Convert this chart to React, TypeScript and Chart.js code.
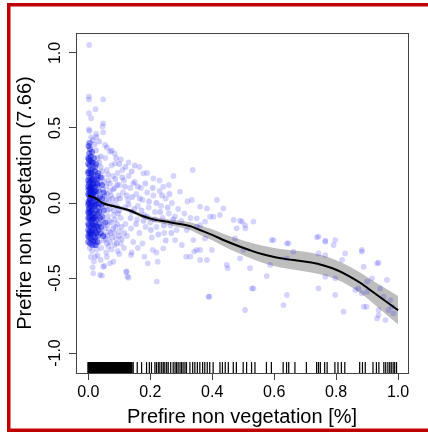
import React, { useEffect, useRef } from "react";
import { Chart, registerables } from "chart.js";

Chart.register(...registerables);

const X_TICKS = [0, 0.2, 0.4, 0.6, 0.8, 1.0];
const Y_TICKS = [-1.0, -0.5, 0.0, 0.5, 1.0];
const X_MIN = -0.0397;
const X_MAX = 1.032;
const Y_MIN = -1.133;
const Y_MAX = 1.133;
const X_TITLE = "Prefire non vegetation [%]";
const Y_TITLE = "Prefire non vegetation (7.66)";

// smooth partial-effect curve and its confidence half-width
const FIT_X = [0.0, 0.025, 0.046, 0.08, 0.11, 0.14, 0.175, 0.21, 0.25, 0.29, 0.33, 0.36, 0.4, 0.44, 0.48, 0.52, 0.56, 0.6, 0.64, 0.68, 0.72, 0.76, 0.8, 0.84, 0.88, 0.92, 0.96, 1.0];
const FIT_Y = [0.05, 0.03, 0.0, -0.02, -0.036, -0.055, -0.087, -0.109, -0.124, -0.138, -0.155, -0.18, -0.212, -0.25, -0.283, -0.313, -0.34, -0.36, -0.374, -0.385, -0.397, -0.417, -0.445, -0.485, -0.535, -0.595, -0.655, -0.715];
const FIT_HALF = [0.012, 0.01, 0.01, 0.01, 0.011, 0.012, 0.014, 0.016, 0.018, 0.022, 0.027, 0.032, 0.037, 0.042, 0.047, 0.052, 0.056, 0.06, 0.063, 0.065, 0.066, 0.065, 0.064, 0.065, 0.068, 0.075, 0.085, 0.095];

// partial residuals (scattered)
const SPARSE_PTS: [number, number][] = [
  [0.003, 1.053], [0.002, 0.709], [0.002, 0.69], [0.048, 0.69], [0.023, 0.625], [0.002, 0.598], [0.009, 0.565],
  [0.048, 0.531], [0.046, 0.51], [0.002, 0.49], [0.004, 0.48], [0.025, 0.46], [0.048, 0.471], [0.009, 0.438],
  [0.054, 0.387], [0.07, 0.342], [0.086, 0.264], [0.178, 0.198], [0.275, 0.18], [0.337, 0.22], [0.21, 0.164],
  [0.145, 0.131], [0.242, 0.109], [0.296, 0.076], [0.415, 0.02], [0.383, -0.036], [0.469, -0.113], [0.496, -0.124],
  [0.533, -0.124], [0.479, -0.169], [0.507, -0.169], [0.404, -0.091], [0.35, -0.102], [0.361, -0.147], [0.318, -0.18],
  [0.28, -0.247], [0.302, -0.28], [0.242, -0.302], [0.361, -0.313], [0.329, -0.358], [0.447, -0.413], [0.45, -0.435],
  [0.383, -0.38], [0.598, -0.247], [0.641, -0.269], [0.662, -0.324], [0.738, -0.229], [0.765, -0.251], [0.792, -0.28],
  [0.883, -0.313], [0.932, -0.402], [0.964, -0.513], [0.9, -0.524], [0.862, -0.58], [0.743, -0.569], [0.641, -0.613],
  [0.533, -0.569], [0.391, -0.624], [0.221, -0.524], [0.124, -0.458], [0.126, -0.49], [0.038, -0.48], [0.016, -0.469],
  [0.048, -0.425], [0.07, -0.402], [0.022, -0.358], [0.014, -0.429], [0.044, -0.484], [0.052, -0.42], [0.081, -0.391],
  [0.122, -0.458], [0.13, -0.498], [0.138, -0.347], [0.192, -0.402], [0.224, -0.391], [0.181, -0.358], [0.316, -0.358],
  [0.208, -0.313], [0.22, -0.33], [0.342, -0.324], [0.334, 0.02], [0.361, -0.024], [0.436, -0.036], [0.425, -0.08],
  [0.393, -0.091], [0.49, -0.118], [0.506, -0.147], [0.35, -0.158], [0.377, -0.124], [0.339, -0.247], [0.377, -0.236],
  [0.35, -0.313], [0.399, -0.313], [0.361, -0.38], [0.474, -0.236], [0.501, -0.313], [0.49, -0.369], [0.592, -0.247],
  [0.646, -0.269], [0.641, -0.369], [0.587, -0.413], [0.522, -0.435], [0.576, -0.487], [0.528, -0.569], [0.388, -0.624],
  [0.743, -0.224], [0.765, -0.258], [0.797, -0.247], [0.743, -0.336], [0.765, -0.347], [0.829, -0.336], [0.883, -0.324],
  [0.819, -0.38], [0.765, -0.491], [0.797, -0.502], [0.889, -0.425], [0.937, -0.398], [0.916, -0.502], [0.872, -0.569],
  [0.9, -0.591], [0.942, -0.569], [0.953, -0.624], [0.975, -0.647], [0.898, -0.691], [0.937, -0.713], [0.969, -0.713],
  [0.98, -0.69], [0.824, -0.724], [0.932, -0.769], [0.959, -0.78], [0.985, -0.735], [0.506, -0.713], [0.63, -0.68],
  [0.889, -0.691], [0.937, -0.747], [0.797, -0.613], [0.883, -0.602],
  [0.055, 0.3], [0.06, 0.22], [0.065, 0.15], [0.07, 0.08], [0.058, 0.02], [0.062, -0.05], [0.068, -0.12], [0.072, -0.2],
  [0.06, -0.27], [0.075, 0.25], [0.08, 0.18], [0.085, 0.1], [0.078, 0.03], [0.082, -0.08], [0.088, -0.16], [0.09, -0.24],
  [0.095, 0.2], [0.1, 0.12], [0.098, 0.05], [0.092, -0.02], [0.105, -0.1], [0.1, -0.19], [0.11, 0.22], [0.115, 0.15],
  [0.112, 0.07], [0.118, -0.03], [0.12, -0.14], [0.125, -0.22], [0.13, 0.18], [0.135, 0.1], [0.128, 0.02], [0.14, -0.06],
  [0.138, -0.17], [0.145, -0.26], [0.15, 0.14], [0.155, 0.06], [0.16, -0.02], [0.158, -0.11], [0.165, -0.2], [0.17, 0.1],
  [0.175, 0.02], [0.18, -0.08], [0.185, -0.16], [0.19, 0.07], [0.195, -0.03], [0.2, -0.13], [0.205, -0.23], [0.21, 0.05],
  [0.215, -0.06], [0.22, -0.16], [0.23, 0.08], [0.235, -0.02], [0.24, -0.1], [0.245, -0.2], [0.25, 0.03], [0.26, -0.07],
  [0.265, -0.15], [0.27, 0.0], [0.28, -0.09], [0.285, -0.18], [0.29, -0.04], [0.3, -0.12], [0.31, -0.07], [0.32, 0.01],
  [0.33, -0.1], [0.26, 0.12], [0.23, 0.15], [0.19, 0.2], [0.165, 0.24], [0.13, 0.27], [0.105, 0.29], [0.085, 0.33],
  [0.005, -0.3], [0.012, -0.32], [0.02, -0.28], [0.028, -0.31], [0.035, -0.26], [0.042, -0.3], [0.05, -0.25],
  [0.058, -0.33], [0.065, -0.29], [0.075, -0.31], [0.085, -0.28], [0.095, -0.32], [0.105, -0.27], [0.115, -0.3],
  [0.008, -0.36], [0.018, -0.39], [0.03, -0.35], [0.04, -0.38], [0.06, -0.36], [0.1, -0.34], [0.16, -0.3],
  [0.175, -0.27], [0.14, -0.33],
];

// moderately dense residuals just right of zero
const MID_PTS: [number, number][] = [
  [0.025, 0.35], [0.03, 0.3], [0.035, 0.27], [0.04, 0.24], [0.045, 0.21], [0.032, 0.16], [0.038, 0.13], [0.046, 0.17],
  [0.052, 0.14], [0.058, 0.11], [0.064, 0.19], [0.07, 0.13], [0.047, 0.09], [0.053, 0.05], [0.06, 0.06], [0.066, 0.02],
  [0.073, 0.05], [0.08, 0.09], [0.087, 0.16], [0.093, 0.12], [0.044, -0.03], [0.05, 0.0], [0.057, -0.02], [0.063, -0.09],
  [0.069, -0.04], [0.076, -0.01], [0.083, -0.05], [0.09, 0.02], [0.096, -0.07], [0.103, 0.03], [0.048, -0.12],
  [0.054, -0.17], [0.061, -0.15], [0.067, -0.19], [0.074, -0.13], [0.08, -0.17], [0.086, -0.11], [0.093, -0.14],
  [0.1, -0.05], [0.107, -0.16], [0.05, -0.21], [0.056, -0.24], [0.062, -0.22], [0.07, -0.26], [0.077, -0.23],
  [0.084, -0.2], [0.092, -0.27], [0.099, -0.22], [0.108, -0.24], [0.116, -0.2], [0.11, 0.17], [0.118, 0.11],
  [0.124, 0.05], [0.13, -0.01], [0.136, -0.1], [0.142, 0.04], [0.148, -0.04], [0.154, -0.14], [0.16, 0.11],
  [0.166, 0.03], [0.172, -0.05], [0.178, -0.12], [0.184, 0.13], [0.19, -0.09], [0.196, 0.01], [0.202, -0.18],
  [0.208, 0.1], [0.214, -0.11], [0.22, 0.0], [0.226, -0.21], [0.232, -0.06], [0.238, 0.05], [0.244, -0.15],
  [0.25, -0.25], [0.256, -0.03], [0.262, 0.06], [0.268, -0.2], [0.274, -0.11], [0.12, 0.24], [0.14, 0.21],
  [0.15, 0.25], [0.1, 0.26], [0.09, 0.3], [0.075, 0.35], [0.06, 0.37], [0.04, 0.31], [0.035, 0.41], [0.02, 0.39],
  [0.026, 0.44], [0.015, 0.42],
];

// densely overlapping residuals near zero
const CORE_PTS: [number, number][] = [
  [0.001, 0.38], [0.003, 0.33], [0.006, 0.36], [0.002, 0.29], [0.008, 0.31], [0.004, 0.25], [0.011, 0.27], [0.001, 0.21],
  [0.007, 0.22], [0.014, 0.23], [0.003, 0.17], [0.009, 0.18], [0.016, 0.19], [0.022, 0.21], [0.002, 0.13], [0.006, 0.14],
  [0.012, 0.12], [0.019, 0.15], [0.027, 0.16], [0.001, 0.09], [0.005, 0.1], [0.01, 0.08], [0.015, 0.1], [0.021, 0.11],
  [0.03, 0.12], [0.003, 0.05], [0.008, 0.06], [0.013, 0.04], [0.018, 0.07], [0.024, 0.05], [0.034, 0.08], [0.001, 0.01],
  [0.006, 0.02], [0.011, 0.0], [0.016, 0.03], [0.022, 0.01], [0.028, 0.02], [0.038, 0.04], [0.004, -0.03], [0.009, -0.02],
  [0.014, -0.04], [0.02, -0.02], [0.026, -0.05], [0.033, -0.03], [0.042, -0.01], [0.002, -0.07], [0.007, -0.06],
  [0.012, -0.08], [0.017, -0.07], [0.023, -0.09], [0.03, -0.07], [0.038, -0.1], [0.004, -0.11], [0.009, -0.12],
  [0.015, -0.1], [0.021, -0.13], [0.028, -0.11], [0.036, -0.14], [0.045, -0.09], [0.002, -0.15], [0.008, -0.16],
  [0.013, -0.14], [0.019, -0.17], [0.025, -0.15], [0.033, -0.18], [0.042, -0.16], [0.005, -0.19], [0.011, -0.2],
  [0.017, -0.21], [0.023, -0.19], [0.031, -0.22], [0.04, -0.2], [0.003, -0.23], [0.009, -0.24], [0.015, -0.25],
  [0.022, -0.23], [0.029, -0.26], [0.048, -0.22], [0.005, 0.03], [0.005, -0.09], [0.01, 0.15], [0.01, -0.05],
  [0.015, 0.06], [0.002, 0.0], [0.002, -0.04], [0.007, 0.09], [0.025, -0.01], [0.035, 0.0], [0.045, 0.03],
  [0.05, -0.05], [0.055, -0.13], [0.05, 0.07], [0.044, 0.12], [0.04, 0.17], [0.032, 0.2], [0.025, 0.26], [0.018, 0.3],
  [0.012, 0.34],
  [0.0, 0.3], [0.0, 0.26], [0.0, 0.2], [0.0, 0.15], [0.0, 0.11], [0.0, 0.06], [0.0, -0.01], [0.0, -0.06], [0.0, -0.1],
  [0.0, -0.14], [0.0, -0.18], [0.0, -0.22], [0.0, -0.26], [0.004, 0.4], [0.007, 0.28], [0.01, 0.2], [0.013, 0.16],
  [0.016, 0.13], [0.02, 0.08], [0.02, -0.1], [0.017, -0.15], [0.012, -0.18], [0.008, -0.21], [0.006, -0.27],
  [0.013, -0.28], [0.02, -0.25], [0.026, -0.2], [0.03, -0.16], [0.035, -0.06], [0.025, 0.08], [0.028, 0.13],
  [0.03, 0.18], [0.022, 0.24], [0.015, 0.27], [0.018, -0.01], [0.004, 0.07], [0.009, 0.11], [0.012, -0.11],
  [0.003, -0.2], [0.024, -0.28],
];

// rug of observed x values: solid block near zero, then individual values
const RUG_DENSE_X = [
  0.0, 0.003, 0.006, 0.009, 0.011, 0.014, 0.017, 0.02, 0.023, 0.026, 0.029, 0.032, 0.035, 0.038, 0.041, 0.044, 0.047,
  0.05, 0.053, 0.056, 0.059, 0.062, 0.065, 0.068, 0.071, 0.074, 0.077, 0.08, 0.083, 0.086, 0.089, 0.092, 0.095, 0.098,
  0.101, 0.104, 0.107, 0.11, 0.113, 0.116, 0.119, 0.122, 0.125, 0.128, 0.131, 0.134, 0.137, 0.14,
];
const RUG_X = [
  0.145, 0.158, 0.172, 0.188, 0.197, 0.204, 0.215, 0.22, 0.226, 0.231, 0.237, 0.242, 0.247, 0.253, 0.258, 0.266,
  0.274, 0.28, 0.285, 0.29, 0.296, 0.301, 0.306, 0.312, 0.317, 0.328, 0.337, 0.344, 0.352, 0.36, 0.369, 0.376,
  0.384, 0.392, 0.403, 0.425, 0.433, 0.442, 0.452, 0.468, 0.478, 0.5, 0.511, 0.527, 0.538, 0.575, 0.591, 0.629,
  0.64, 0.647, 0.667, 0.704, 0.737, 0.743, 0.749, 0.763, 0.771, 0.796, 0.806, 0.817, 0.828, 0.876, 0.885, 0.894,
  0.919, 0.93, 0.938, 0.954, 0.96, 0.967, 0.973, 0.978, 0.984, 0.989, 0.995,
];
const RUG_Y = -1.097;

const FONT = "'Liberation Sans', Arial, Helvetica, sans-serif";

const framePlugin = {
  id: "frame",
  afterDraw(chart: any) {
    const { ctx, chartArea: a } = chart;
    ctx.save();
    ctx.strokeStyle = "#444";
    ctx.lineWidth = 1;
    ctx.strokeRect(Math.round(a.left) + 0.5, Math.round(a.top) + 0.5, Math.round(a.right - a.left), Math.round(a.bottom - a.top));
    ctx.strokeStyle = "#c00000";
    ctx.lineWidth = 3.5;
    ctx.strokeRect(8.75, 4.75, 430, 425.5);
    ctx.restore();
  },
};

const toXY = (arr: [number, number][]) => arr.map(([x, y]) => ({ x, y }));

export default function App() {
  const ref = useRef<HTMLCanvasElement | null>(null);
  useEffect(() => {
    if (!ref.current) return;
    const fitPts = FIT_X.map((x, i) => ({ x, y: FIT_Y[i] }));
    const upper = FIT_X.map((x, i) => ({ x, y: FIT_Y[i] + FIT_HALF[i] }));
    const lower = FIT_X.map((x, i) => ({ x, y: FIT_Y[i] - FIT_HALF[i] }));
    const chart = new Chart(ref.current, {
      type: "scatter",
      data: {
        datasets: [
          {
            type: "line",
            data: fitPts,
            borderColor: "#000",
            borderWidth: 2,
            pointRadius: 0,
            cubicInterpolationMode: "monotone",
            fill: false,
            order: 0,
          } as any,
          {
            data: RUG_DENSE_X.map((x) => ({ x, y: RUG_Y })),
            pointStyle: "line",
            rotation: 90,
            pointRadius: 5.5,
            borderColor: "#000",
            borderWidth: 2,
            order: 1,
          } as any,
          {
            data: RUG_X.map((x) => ({ x, y: RUG_Y })),
            pointStyle: "line",
            rotation: 90,
            pointRadius: 5.5,
            borderColor: "#000",
            borderWidth: 1.2,
            order: 1,
          } as any,
          {
            data: toXY(SPARSE_PTS),
            pointRadius: 2.9,
            borderWidth: 0,
            backgroundColor: "rgba(0,0,255,0.17)",
            order: 2,
          } as any,
          {
            data: toXY(MID_PTS),
            pointRadius: 2.9,
            borderWidth: 0,
            backgroundColor: "rgba(0,0,255,0.2)",
            order: 3,
          } as any,
          {
            data: toXY(CORE_PTS),
            pointRadius: 3.1,
            borderWidth: 0,
            backgroundColor: "rgba(0,10,220,0.45)",
            order: 4,
          } as any,
          {
            type: "line",
            data: upper,
            borderWidth: 0,
            borderColor: "rgba(0,0,0,0)",
            pointRadius: 0,
            cubicInterpolationMode: "monotone",
            backgroundColor: "#bebebe",
            fill: "+1",
            order: 5,
          } as any,
          {
            type: "line",
            data: lower,
            borderWidth: 0,
            borderColor: "rgba(0,0,0,0)",
            pointRadius: 0,
            cubicInterpolationMode: "monotone",
            fill: false,
            order: 6,
          } as any,
        ],
      },
      options: {
        animation: false,
        responsive: true,
        maintainAspectRatio: false,
        devicePixelRatio: 1,
        layout: { padding: { left: 0, top: 33, right: 20, bottom: 0 } },
        plugins: { legend: { display: false }, tooltip: { enabled: false } },
        events: [],
        scales: {
          x: {
            type: "linear",
            min: X_MIN,
            max: X_MAX,
            afterBuildTicks: (s: any) => {
              s.ticks = X_TICKS.map((v) => ({ value: v }));
            },
            afterFit: (s: any) => {
              s.height = 59;
            },
            grid: { drawOnChartArea: false, drawTicks: true, tickLength: 7, color: "#444", lineWidth: 1 },
            border: { display: false },
            ticks: {
              autoSkip: false,
              maxRotation: 0,
              minRotation: 0,
              padding: 3,
              color: "#000",
              font: { family: FONT, size: 16 },
              callback: (v: any) => Number(v).toFixed(1),
            },
            title: {
              display: true,
              text: X_TITLE,
              color: "#000",
              font: { family: FONT, size: 20, lineHeight: 1.2 },
              padding: { top: 0, bottom: 3 },
            },
          },
          y: {
            type: "linear",
            min: Y_MIN,
            max: Y_MAX,
            afterBuildTicks: (s: any) => {
              s.ticks = Y_TICKS.map((v) => ({ value: v }));
            },
            afterFit: (s: any) => {
              s.width = 76;
            },
            grid: { drawOnChartArea: false, drawTicks: true, tickLength: 7, color: "#444", lineWidth: 1 },
            border: { display: false },
            ticks: {
              autoSkip: false,
              minRotation: 90,
              maxRotation: 90,
              crossAlign: "center",
              padding: 0,
              color: "#000",
              font: { family: FONT, size: 16 },
              callback: (v: any) => Number(v).toFixed(1),
            },
            title: {
              display: true,
              text: Y_TITLE,
              color: "#000",
              font: { family: FONT, size: 20, lineHeight: 1.2 },
              padding: { top: 13, bottom: 0 },
            },
          },
        },
      } as any,
      plugins: [framePlugin],
    });
    return () => chart.destroy();
  }, []);
  return (
    <div style={{ position: "absolute", left: 0, top: 0, width: 428, height: 432, background: "#fff" }}>
      <canvas ref={ref} />
    </div>
  );
}
